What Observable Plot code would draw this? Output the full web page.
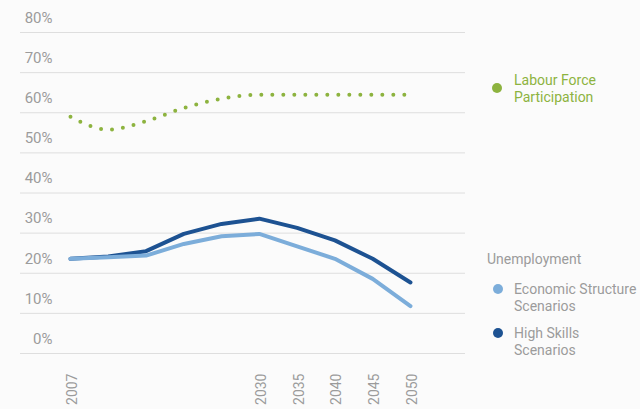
<!DOCTYPE html>
<html>
<head>
<meta charset="utf-8">
<script src="https://cdn.jsdelivr.net/npm/d3@7"></script>
<script src="https://cdn.jsdelivr.net/npm/@observablehq/plot@0.6"></script>
<style>
  html, body { margin: 0; padding: 0; background: #fbfbfb; }
  #wrap { position: relative; width: 640px; height: 409px; font-family: Roboto, "Noto Sans", sans-serif; }
  .leg { position: absolute; font-size: 14px; line-height: 17px; white-space: nowrap; }
  .dot { position: absolute; width: 10px; height: 10px; border-radius: 50%; }
</style>
</head>
<body>
<div id="wrap"></div>
<script>
const years = ["2007", "2010", "2015", "2020", "2025", "2030", "2035", "2040", "2045", "2050"];
const labeledYears = ["2007", "2030", "2035", "2040", "2045", "2050"];
const labourForce = [59.0, 55.8, 57.9, 61.2, 63.5, 64.5, 64.5, 64.5, 64.5, 64.5];
const economicStructure = [23.6, 24.0, 24.4, 27.3, 29.2, 29.8, 26.7, 23.6, 18.6, 11.8];
const highSkills = [23.6, 24.2, 25.5, 29.8, 32.3, 33.6, 31.3, 28.2, 23.6, 17.7];
const yTicks = [0, 10, 20, 30, 40, 50, 60, 70, 80];

const green = "#8db33f";
const lightBlue = "#7cadda";
const darkBlue = "#1d5292";
const grey = "#9b9b9b";

const rows = (vals) => years.map((y, i) => ({year: y, value: vals[i]}));

const chart = Plot.plot({
  width: 640,
  height: 409,
  marginLeft: 20,
  marginRight: 175,
  marginTop: 32,
  marginBottom: 56,
  style: {background: "transparent", fontFamily: "Roboto, 'Noto Sans', sans-serif", fontSize: "15px", color: grey},
  x: {type: "point", domain: years, padding: 1.39, align: 0.476, round: false, label: null},
  y: {domain: [0, 80], label: null},
  marks: [
    Plot.ruleY(yTicks, {stroke: "#dedede", strokeWidth: 1}),
    Plot.axisY(yTicks, {tickSize: 0, tickPadding: 0, dx: 32, dy: -14.5, tickFormat: d => d + "%", fill: grey, fontSize: 15, label: null}),
    Plot.axisX(labeledYears, {tickSize: 0, tickPadding: 20, tickRotate: -90, dx: 2, fill: grey, fontSize: 14, label: null}),
    Plot.line(rows(labourForce), {x: "year", y: "value", stroke: green, strokeWidth: 4, strokeDasharray: "0 11", strokeLinecap: "round", curve: "monotone-x"}),
    Plot.line(rows(highSkills), {x: "year", y: "value", stroke: darkBlue, strokeWidth: 4}),
    Plot.line(rows(economicStructure), {x: "year", y: "value", stroke: lightBlue, strokeWidth: 4})
  ]
});

const wrap = document.getElementById("wrap");
wrap.appendChild(chart);

function addText(html, left, top, color) {
  const d = document.createElement("div");
  d.className = "leg";
  d.style.left = left + "px";
  d.style.top = top + "px";
  d.style.color = color;
  d.innerHTML = html;
  wrap.appendChild(d);
}
function addDot(cx, cy, color) {
  const d = document.createElement("div");
  d.className = "dot";
  d.style.left = (cx - 5) + "px";
  d.style.top = (cy - 5) + "px";
  d.style.background = color;
  wrap.appendChild(d);
}
addDot(497, 88, green);
addText("Labour Force<br>Participation", 514, 72, green);
addText("Unemployment", 487, 251, grey);
addDot(498, 289, lightBlue);
addText("Economic Structure<br>Scenarios", 514, 281, grey);
addDot(498, 333, darkBlue);
addText("High Skills<br>Scenarios", 514, 325, grey);
</script>
</body>
</html>
